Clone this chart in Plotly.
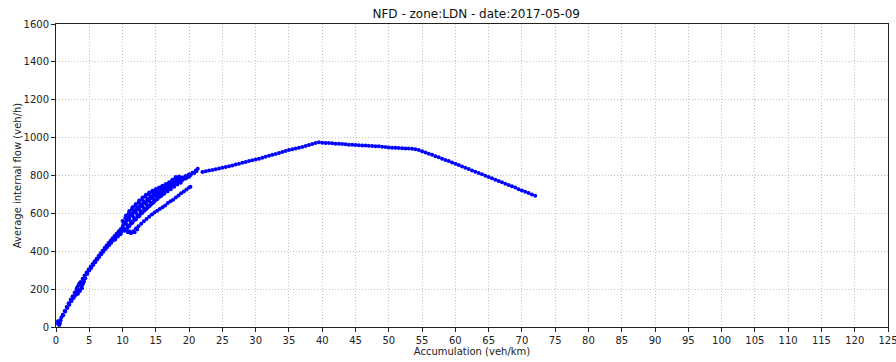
import plotly.graph_objects as go

# ---- data (accumulation veh/km, flow veh/h) ----
ramp_x = [0.3, 0.5, 0.8, 1.0, 1.3, 1.6, 1.9, 2.2, 2.5, 2.8, 3.1, 3.4, 3.7, 4.0, 4.3, 4.6, 4.9,
          5.2, 5.5, 5.8, 6.1, 6.4, 6.7, 7.0, 7.3, 7.6, 7.9, 8.2, 8.5, 8.8, 9.1, 9.4, 9.7, 10.0]
ramp_y = [18, 30, 50, 65, 85, 105, 125, 145, 163, 182, 200, 220, 238, 255, 272, 288, 303,
          318, 333, 347, 361, 375, 389, 403, 417, 430, 443, 455, 468, 480, 492, 504, 516, 528]

ramp2_x = [0.4, 0.7, 1.1, 1.4, 1.7, 2.0, 2.3, 2.6, 2.9, 3.2, 3.5, 3.8, 4.1, 4.4, 4.7, 5.0,
           5.3, 5.6, 5.9, 6.2, 6.5, 6.8, 7.1, 7.4, 7.7, 8.0, 8.3, 8.6, 8.9, 9.2, 9.5, 9.8]
ramp2_y = [15, 35, 62, 82, 100, 118, 136, 152, 168, 182, 195, 215, 235, 258, 280, 298,
           312, 328, 342, 356, 370, 384, 397, 410, 422, 433, 445, 458, 470, 482, 492, 502]

blob_x = [0.3, 0.5, 0.6, 3.3, 3.6, 3.9, 3.5, 3.2, 4.0, 8.9, 9.3, 9.7, 2.7, 3.0, 4.2]
blob_y = [30, 10, 20, 175, 190, 205, 230, 210, 225, 462, 478, 490, 160, 172, 240]

cloud1_x = [10.0, 10.5, 11.0, 11.5, 12.0, 12.5, 13.0, 13.5, 14.0, 14.5, 15.0, 15.5,
            16.0, 16.5, 17.0, 17.5, 18.0, 18.5, 19.0, 19.5, 20.0, 20.5, 21.0, 21.3]
cloud1_y = [560, 588, 612, 632, 650, 668, 684, 698, 710, 720, 729, 737,
            746, 755, 765, 778, 792, 795, 790, 798, 806, 815, 826, 835]

cloud2_x = [10.25, 10.75, 11.25, 11.75, 12.25, 12.75, 13.25, 13.75, 14.25, 14.75, 15.25, 15.75,
            16.25, 16.75, 17.25, 17.75, 18.25, 18.75, 19.25, 19.75, 20.25, 20.75, 21.1]
cloud2_y = [552, 577, 600, 616, 632, 648, 663, 677, 690, 702, 713, 723,
            733, 743, 754, 766, 776, 781, 786, 794, 803, 813, 822]

cloud3_x = [10.0, 10.5, 11.0, 11.5, 12.0, 12.5, 13.0, 13.5, 14.0, 14.5, 15.0, 15.5,
            16.0, 16.5, 17.0, 17.5, 18.0, 18.5, 19.0, 19.5, 20.0]
cloud3_y = [522, 545, 568, 588, 605, 622, 638, 653, 667, 680, 693, 705,
            716, 726, 737, 748, 760, 770, 776, 784, 794]

cloud4_x = [10.25, 10.75, 11.25, 11.75, 12.25, 12.75, 13.25, 13.75, 14.25, 14.75, 15.25, 15.75,
            16.25, 16.75, 17.25, 17.75, 18.25, 18.75]
cloud4_y = [508, 525, 545, 565, 582, 598, 614, 630, 646, 661, 676, 690,
            703, 715, 727, 740, 752, 762]

cloud5_x = [10.5, 11.0, 11.5, 12.0, 12.5, 13.0, 13.5, 14.0, 14.5, 15.0, 15.5, 16.0]
cloud5_y = [515, 532, 550, 568, 585, 603, 620, 637, 654, 670, 686, 700]

cloud6_x = [10.4, 10.9, 11.4, 11.9, 12.4, 12.9, 13.4, 13.9, 14.4, 14.9, 15.4, 15.9,
            16.4, 16.9, 17.4, 17.9, 18.4, 18.9, 19.4, 19.9]
cloud6_y = [575, 600, 622, 640, 656, 672, 688, 700, 712, 722, 731, 740,
            748, 758, 770, 784, 790, 788, 794, 802]

cloud7_x = [10.2, 10.7, 11.2, 11.7, 12.2, 12.7, 13.2, 13.7, 14.2, 14.7, 15.2, 15.7,
            16.2, 16.7, 17.2, 17.7, 18.2]
cloud7_y = [518, 538, 558, 577, 594, 611, 627, 643, 658, 672, 686, 699,
            710, 721, 732, 744, 756]

cloud8_x = [10.1, 10.6, 11.1, 11.6, 12.1, 12.6, 13.1, 13.6, 14.1, 14.6, 15.1, 15.6,
            16.1, 16.6, 17.1, 17.6, 18.1, 18.6, 19.1, 19.6]
cloud8_y = [540, 562, 585, 603, 620, 637, 652, 666, 679, 692, 703, 714,
            724, 735, 746, 757, 768, 776, 781, 788]

lower_x = [10.8, 11.0, 11.2, 11.3, 11.6, 11.8, 12.0, 12.2, 12.4, 12.8, 13.2, 13.6, 14.0, 14.4,
           14.8, 15.2, 15.6, 16.0, 16.4, 16.8, 17.2, 17.6, 18.0, 18.4, 18.8, 19.2,
           19.6, 20.0, 20.2]
lower_y = [500, 505, 498, 497, 505, 500, 520, 515, 532, 545, 558, 570, 582, 594,
           605, 614, 623, 632, 642, 655, 664, 672, 684, 695, 706, 716,
           726, 736, 740]

tail_x = [22.0, 22.5, 23.0, 23.5, 24.0, 24.5, 25.0, 25.5, 26.0, 26.5, 27.0, 27.5, 28.0, 28.5,
          29.0, 29.5, 30.0, 30.5, 31.0, 31.5, 32.0, 32.5, 33.0, 33.5, 34.0, 34.5, 35.0, 35.5,
          36.0, 36.5, 37.0, 37.5, 38.0, 38.5, 39.0, 39.5, 40.0, 40.5, 41.0, 41.5, 42.0, 42.5,
          43.0, 43.5, 44.0, 44.5, 45.0, 45.5, 46.0, 46.5, 47.0, 47.5, 48.0, 48.5, 49.0, 49.5,
          50.0, 50.5, 51.0, 51.5, 52.0, 52.5, 53.0, 53.5, 54.0, 54.5, 55.0, 55.5, 56.0, 56.5,
          57.0, 57.5, 58.0, 58.5, 59.0, 59.5, 60.0, 60.5, 61.0, 61.5, 62.0, 62.5, 63.0, 63.5,
          64.0, 64.5, 65.0, 65.5, 66.0, 66.5, 67.0, 67.5, 68.0, 68.5, 69.0, 69.5, 70.0, 70.5,
          71.0, 71.5, 72.0]
tail_y = [818, 822, 826, 829, 833, 837, 841, 845, 849, 853, 858, 862, 867, 871,
          876, 880, 885, 889, 894, 899, 904, 909, 914, 919, 924, 929, 934, 938,
          942, 947, 951, 956, 961, 966, 971, 976, 973, 972, 971, 970, 968, 967,
          966, 965, 963, 962, 961, 960, 959, 958, 957, 956, 955, 954, 952, 951,
          948, 947, 946, 945, 944, 943, 942, 941, 938, 934, 928, 922, 915, 909,
          902, 896, 889, 882, 876, 869, 862, 855, 848, 841, 834, 827, 820, 813,
          806, 799, 792, 785, 778, 771, 764, 757, 750, 743, 736, 728, 721, 714,
          707, 700, 693]

x_ticks = list(range(0, 130, 5))
y_ticks = list(range(0, 1800, 200))

all_x = (ramp_x + ramp2_x + blob_x + cloud1_x + cloud2_x + cloud3_x + cloud4_x + cloud5_x
         + cloud6_x + cloud7_x + cloud8_x + lower_x + tail_x)
all_y = (ramp_y + ramp2_y + blob_y + cloud1_y + cloud2_y + cloud3_y + cloud4_y + cloud5_y
         + cloud6_y + cloud7_y + cloud8_y + lower_y + tail_y)

fig = go.Figure()
fig.add_trace(go.Scatter(
    x=all_x, y=all_y, mode="markers",
    marker=dict(color="#0000ff", size=4, line=dict(width=0)),
    showlegend=False, hoverinfo="skip", cliponaxis=False,
))

font = "DejaVu Sans, Liberation Sans, sans-serif"
axis_common = dict(
    showgrid=True, gridcolor="#c4c4c4", griddash="1px,2px", gridwidth=1,
    zeroline=False, showline=True, linecolor="#222222", linewidth=1, mirror=True,
    ticks="outside", ticklen=4, tickwidth=1, tickcolor="#222222",
    tickfont=dict(family=font, size=10, color="#222222"),
    automargin=False, ticklabeloverflow="allow",
)

fig.update_layout(
    width=896, height=362,
    margin=dict(l=56, r=8, t=24, b=35),
    paper_bgcolor="white", plot_bgcolor="white",
    font=dict(family=font, size=10, color="#222222"),
    title=dict(text="NFD - zone:LDN - date:2017-05-09", x=0.5315, xanchor="center",
               y=1 - 14 / 362, yref="container", yanchor="middle",
               font=dict(family=font, size=12, color="#111111")),
    xaxis=dict(range=[0, 125], tickvals=x_ticks, ticktext=[str(v) for v in x_ticks],
               title=dict(text="Accumulation (veh/km)", standoff=2,
                          font=dict(family=font, size=10)),
               **axis_common),
    yaxis=dict(range=[0, 1600], tickvals=y_ticks, ticktext=[str(v) for v in y_ticks],
               title=dict(text="Average internal flow (veh/h)", standoff=0,
                          font=dict(family=font, size=10)),
               **axis_common),
)

# remove the browser's default 8px body margin so the figure fills the window exactly
fig.write_html("out.html",
               config={"displayModeBar": False, "staticPlot": True},
               post_script="document.body.style.margin='0';document.body.style.overflow='hidden';")
